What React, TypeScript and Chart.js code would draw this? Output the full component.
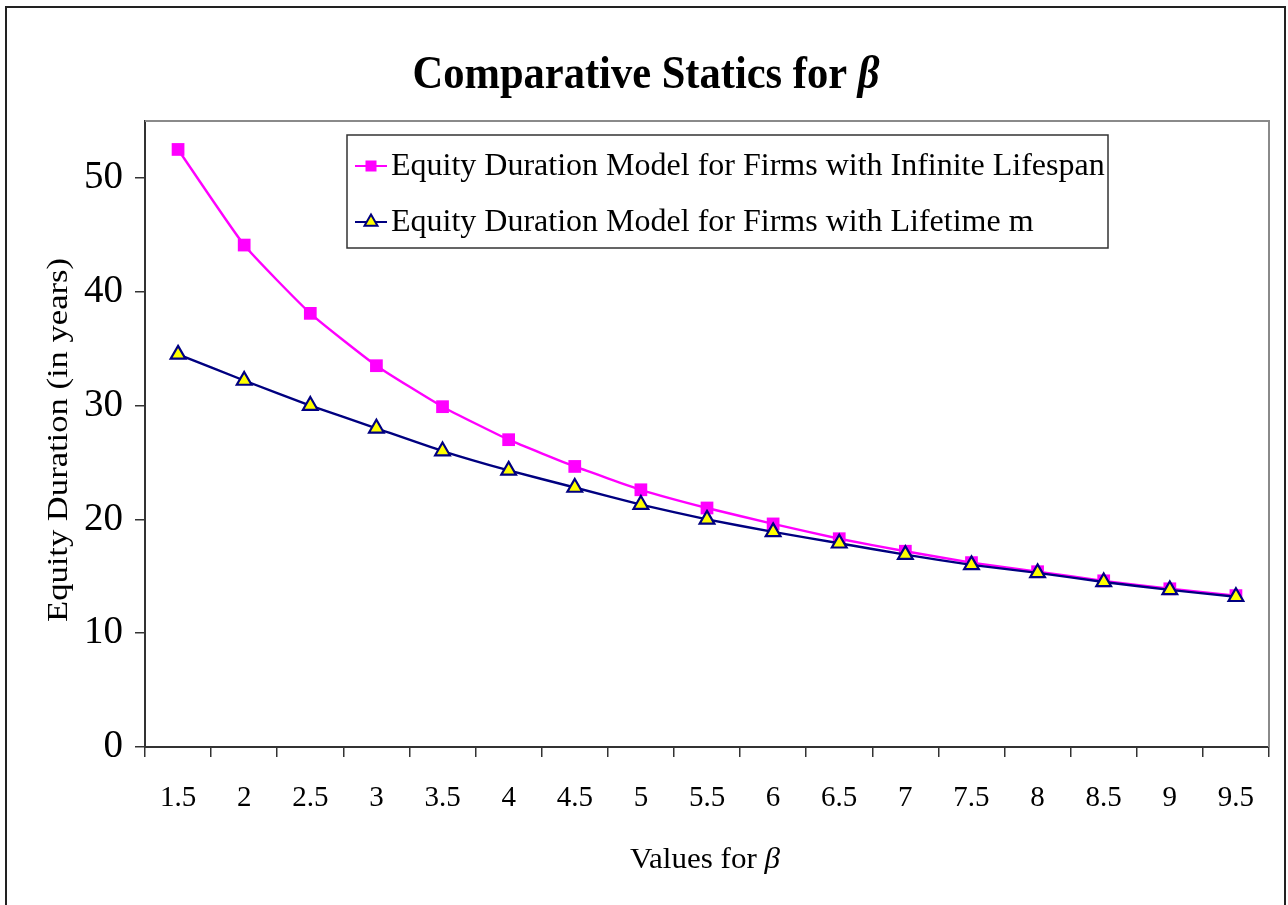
import React, { useEffect, useRef } from 'react';
import { Chart, registerables } from 'chart.js';

Chart.register(...registerables);

const categories = ['1.5', '2', '2.5', '3', '3.5', '4', '4.5', '5', '5.5', '6', '6.5', '7', '7.5', '8', '8.5', '9', '9.5'];
const infiniteLifespan = [52.5, 44.1, 38.1, 33.5, 29.9, 27.0, 24.65, 22.6, 21.0, 19.6, 18.3, 17.2, 16.2, 15.4, 14.6, 13.9, 13.3];
const lifetimeM = [34.5, 32.2, 30.0, 28.0, 26.0, 24.3, 22.8, 21.3, 20.0, 18.9, 17.9, 16.9, 16.0, 15.3, 14.5, 13.8, 13.2];
const seriesLabels = [
  'Equity Duration Model for Firms with Infinite Lifespan',
  'Equity Duration Model for Firms with Lifetime m',
];
const titleParts = ['Comparative Statics for ', 'β'];
const xTitleParts = ['Values for ', 'β'];
const yTitle = 'Equity Duration (in years)';

const FONT = '"Liberation Serif", "Times New Roman", serif';

type Part = { text: string; font: string };

// Draw text parts centred on cx, horizontally scaled to the given width
function drawFitted(ctx: CanvasRenderingContext2D, parts: Part[], cx: number, y: number, width: number) {
  let total = 0;
  for (const p of parts) {
    ctx.font = p.font;
    total += ctx.measureText(p.text).width;
  }
  const sx = width / total;
  ctx.save();
  ctx.translate(cx, y);
  ctx.scale(sx, 1);
  let x = -total / 2;
  ctx.textAlign = 'left';
  ctx.textBaseline = 'alphabetic';
  for (const p of parts) {
    ctx.font = p.font;
    ctx.fillText(p.text, x, 0);
    x += ctx.measureText(p.text).width;
  }
  ctx.restore();
}

function drawSquare(ctx: CanvasRenderingContext2D, x: number, y: number, s: number) {
  ctx.fillStyle = '#FF00FF';
  ctx.fillRect(x - s / 2, y - s / 2, s, s);
}

function drawTriangle(ctx: CanvasRenderingContext2D, x: number, y: number, r: number) {
  ctx.beginPath();
  ctx.moveTo(x, y - r);
  ctx.lineTo(x + r * 0.866, y + r * 0.5);
  ctx.lineTo(x - r * 0.866, y + r * 0.5);
  ctx.closePath();
  ctx.fillStyle = '#FFFF00';
  ctx.fill();
  ctx.strokeStyle = '#000080';
  ctx.lineWidth = 2;
  ctx.stroke();
}

export default function App() {
  const ref = useRef<HTMLCanvasElement>(null);

  useEffect(() => {
    if (!ref.current) return;

    const decor = {
      id: 'decor',
      beforeDraw(chart: any) {
        const ctx = chart.ctx as CanvasRenderingContext2D;
        ctx.save();
        ctx.fillStyle = '#ffffff';
        ctx.fillRect(0, 0, chart.width, chart.height);
        ctx.strokeStyle = '#222';
        ctx.lineWidth = 2;
        ctx.strokeRect(6, 7, chart.width - 9, chart.height + 20);
        ctx.restore();
      },
      afterDraw(chart: any) {
        const ctx = chart.ctx as CanvasRenderingContext2D;
        const a = chart.chartArea;
        ctx.save();
        // plot area border (top/right)
        ctx.strokeStyle = '#8a8a8a';
        ctx.lineWidth = 2;
        ctx.beginPath();
        ctx.moveTo(a.left, a.top);
        ctx.lineTo(a.right, a.top);
        ctx.lineTo(a.right, a.bottom);
        ctx.stroke();

        ctx.fillStyle = '#000';
        // title
        drawFitted(ctx, [
          { text: titleParts[0], font: `bold 46px ${FONT}` },
          { text: titleParts[1], font: `italic bold 46px ${FONT}` },
        ], 646, 88, 467);
        // x title
        drawFitted(ctx, [
          { text: xTitleParts[0], font: `29px ${FONT}` },
          { text: xTitleParts[1], font: `italic 29px ${FONT}` },
        ], 705, 868, 150);
        // y title
        ctx.save();
        ctx.translate(67, 440);
        ctx.rotate(-Math.PI / 2);
        drawFitted(ctx, [{ text: yTitle, font: `30px ${FONT}` }], 0, 0, 364);
        ctx.restore();

        // legend
        const lx = a.left + 202;
        const ly = a.top + 14;
        const lw = 761;
        const lh = 113;
        ctx.fillStyle = '#fff';
        ctx.fillRect(lx, ly, lw, lh);
        ctx.strokeStyle = '#333';
        ctx.lineWidth = 1.5;
        ctx.strokeRect(lx, ly, lw, lh);
        const rows = [ly + 31, ly + 87];
        const colors = ['#FF00FF', '#000080'];
        for (let i = 0; i < 2; i++) {
          const yy = rows[i];
          ctx.strokeStyle = colors[i];
          ctx.lineWidth = 2;
          ctx.beginPath();
          ctx.moveTo(lx + 8, yy);
          ctx.lineTo(lx + 40, yy);
          ctx.stroke();
          if (i === 0) drawSquare(ctx, lx + 24, yy, 11);
          else drawTriangle(ctx, lx + 24, yy, 7.5);
          ctx.fillStyle = '#000';
          ctx.font = `32px ${FONT}`;
          ctx.textAlign = 'left';
          ctx.textBaseline = 'middle';
          ctx.fillText(seriesLabels[i], lx + 44, yy + 1);
        }
        ctx.restore();
      },
    };

    const chart = new Chart(ref.current, {
      type: 'line',
      data: {
        labels: categories,
        datasets: [
          {
            label: seriesLabels[0],
            data: infiniteLifespan,
            borderColor: '#FF00FF',
            backgroundColor: '#FF00FF',
            borderWidth: 2.4,
            pointStyle: 'rect',
            pointRadius: 9,
            pointBorderWidth: 0,
            pointBackgroundColor: '#FF00FF',
            tension: 0.15,
            order: 1,
          },
          {
            label: seriesLabels[1],
            data: lifetimeM,
            borderColor: '#000080',
            backgroundColor: '#FFFF00',
            borderWidth: 2.4,
            pointStyle: 'triangle',
            pointRadius: 8.5,
            pointBorderWidth: 2.2,
            pointBorderColor: '#000080',
            pointBackgroundColor: '#FFFF00',
            tension: 0.15,
            order: 0,
          },
        ],
      },
      options: {
        responsive: false,
        animation: false,
        devicePixelRatio: 1,
        layout: { padding: { left: 0, top: 121, right: 19, bottom: 0 } },
        plugins: {
          legend: { display: false },
          title: { display: false },
          tooltip: { enabled: false },
        },
        scales: {
          x: {
            type: 'category',
            offset: true,
            grid: { offset: true, drawOnChartArea: false, drawTicks: true, tickLength: 10, color: '#333', lineWidth: 1.5 },
            border: { display: true, color: '#333', width: 2 },
            ticks: { color: '#000', font: { family: FONT, size: 29 }, padding: 24, maxRotation: 0, autoSkip: false },
            afterFit(scale: any) { scale.height = 905 - 747; },
          },
          y: {
            min: 0,
            max: 55,
            grid: { drawOnChartArea: false, drawTicks: true, tickLength: 10, color: '#333', lineWidth: 1.5 },
            border: { display: true, color: '#333', width: 2 },
            ticks: { stepSize: 10, includeBounds: false, color: '#000', font: { family: FONT, size: 39 }, padding: 12 },
            afterFit(scale: any) { scale.width = 145; },
          },
        },
      },
      plugins: [decor],
    } as any);

    return () => chart.destroy();
  }, []);

  return (
    <div style={{ position: 'absolute', left: 0, top: 0, width: 1288, height: 905 }}>
      <canvas ref={ref} width={1288} height={905} style={{ width: 1288, height: 905, display: 'block' }} />
    </div>
  );
}
